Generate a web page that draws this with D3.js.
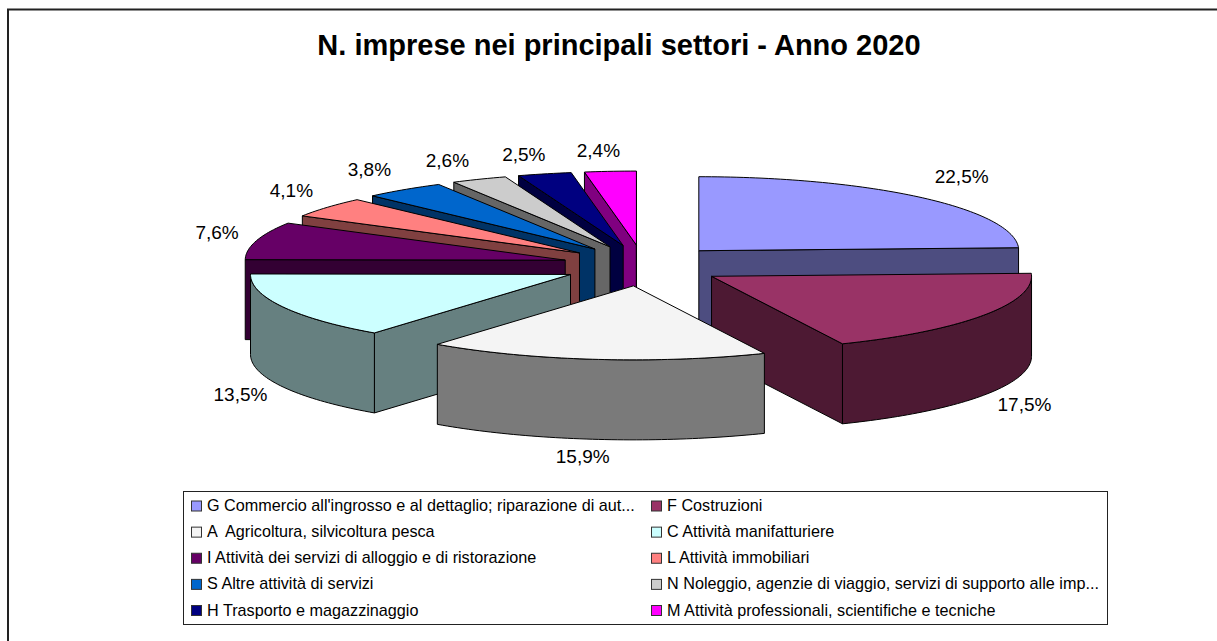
<!DOCTYPE html>
<html>
<head>
<meta charset="utf-8">
<script src="https://d3js.org/d3.v7.min.js"></script>
<style>
  html, body { margin: 0; padding: 0; background: #fff; }
  svg { display: block; }
  text { font-family: "Liberation Sans", Arial, sans-serif; fill: #000; white-space: pre; }
</style>
</head>
<body>
<div class="chart"></div>
<script>
var categories = [
  "G Commercio all'ingrosso e al dettaglio; riparazione di aut...",
  "F Costruzioni",
  "A  Agricoltura, silvicoltura pesca",
  "C Attività manifatturiere",
  "I Attività dei servizi di alloggio e di ristorazione",
  "L Attività immobiliari",
  "S Altre attività di servizi",
  "N Noleggio, agenzie di viaggio, servizi di supporto alle imp...",
  "H Trasporto e magazzinaggio",
  "M Attività professionali, scientifiche e tecniche"
];
var values = [22.5, 17.5, 15.9, 13.5, 7.6, 4.1, 3.8, 2.6, 2.5, 2.4];
var topColors = ["#9999ff", "#993366", "#f4f4f4", "#ccffff", "#660066", "#ff8080", "#0066cc", "#cccccc", "#000080", "#ff00ff"];
var wallColors = ["#4d4d80", "#4d1933", "#7a7a7a", "#668080", "#330033", "#804040", "#003366", "#666666", "#000040", "#800080"];
var title = "N. imprese nei principali settori - Anno 2020";

var width = 1217, height = 641;
var cx = 643, cy = 265.5;      // pie centre before exploding
var rx = 320, ry = 74;         // ellipse of the top face
var explodeX = 80.6, explodeY = 20.5;
var depth = 80;

var svg = d3.select(".chart").append("svg")
    .attr("width", width)
    .attr("height", height);

// frame, only top and left show in the picture
svg.append("path")
    .attr("d", "M8,641V9.5H1217")
    .attr("fill", "none")
    .attr("stroke", "#222")
    .attr("stroke-width", 2);

svg.append("text")
    .attr("x", 619)
    .attr("y", 55)
    .attr("text-anchor", "middle")
    .attr("font-size", 29)
    .attr("font-weight", "bold")
    .text(title);

var pie = d3.pie().sort(null).value(function(d) { return d; });
var slices = pie(values).map(function(d, i) {
  var mid = (d.startAngle + d.endAngle) / 2;
  return {
    i: i,
    start: d.startAngle,
    end: d.endAngle,
    mid: mid,
    ax: cx + explodeX * Math.sin(mid),
    ay: cy - explodeY * Math.cos(mid)
  };
});

function pt(s, a, dy) {
  return [s.ax + rx * Math.sin(a), s.ay - ry * Math.cos(a) + (dy || 0)];
}

function arcPoints(s, a0, a1, dy) {
  var n = Math.max(2, Math.ceil((a1 - a0) / 0.02));
  return d3.range(n + 1).map(function(k) { return pt(s, a0 + (a1 - a0) * k / n, dy); });
}

var line = d3.line();

// back slices first, so the nearer ones paint over them
var order = slices.slice().sort(function(a, b) { return Math.cos(b.mid) - Math.cos(a.mid); });

var g = svg.append("g")
    .attr("stroke", "#000")
    .attr("stroke-width", 1)
    .attr("stroke-linejoin", "round");

function sideWall(s, a) {
  g.append("path")
    .attr("d", line([[s.ax, s.ay], pt(s, a), pt(s, a, depth), [s.ax, s.ay + depth]]) + "Z")
    .attr("fill", wallColors[s.i]);
}

order.forEach(function(s) {
  // a cut face only shows when it turns towards the viewer
  if (Math.sin(s.start) < 0) sideWall(s, s.start);
  if (Math.sin(s.end) > 0) sideWall(s, s.end);

  // outer wall, only the part between 90 and 270 degrees faces us
  var a0 = Math.max(s.start, Math.PI / 2), a1 = Math.min(s.end, Math.PI * 1.5);
  if (a1 > a0) {
    g.append("path")
      .attr("d", line(arcPoints(s, a0, a1).concat(arcPoints(s, a0, a1, depth).reverse())) + "Z")
      .attr("fill", wallColors[s.i]);
  }

  g.append("path")
    .attr("d", line([[s.ax, s.ay]].concat(arcPoints(s, s.start, s.end))) + "Z")
    .attr("fill", topColors[s.i]);
});

// percent labels
var fmt = function(v) { return d3.format(".1f")(v).replace(".", ",") + "%"; };
var labelRx = 368, labelRy = 92;
var labelNudge = [[8, -7], [0, 0], [-7, 0], [1, 0], [7, -3], [2, -5], [-6, -5], [-12, -2], [-9, -1], [-8, -2]];

svg.append("g").selectAll("text")
    .data(slices)
    .enter().append("text")
    .attr("x", function(d) { return d.ax + labelRx * Math.sin(d.mid) + labelNudge[d.i][0]; })
    .attr("y", function(d) {
      var front = Math.cos(d.mid) < 0 ? depth : 0;
      return d.ay - labelRy * Math.cos(d.mid) + front + labelNudge[d.i][1] + 6;
    })
    .attr("text-anchor", "middle")
    .attr("font-size", 19)
    .text(function(d) { return fmt(values[d.i]); });

// legend
var legendX = 183.5, legendY = 491.5, legendW = 924, legendH = 133;
svg.append("rect")
    .attr("x", legendX).attr("y", legendY)
    .attr("width", legendW).attr("height", legendH)
    .attr("fill", "#fff")
    .attr("stroke", "#222");

var colX = d3.scaleBand().domain([0, 1]).range([190, 1110]);
var rowY = d3.scalePoint().domain([0, 1, 2, 3, 4]).range([505.5, 610]);

var items = svg.append("g").selectAll("g")
    .data(categories)
    .enter().append("g")
    .attr("transform", function(d, i) {
      return "translate(" + colX(i % 2) + "," + rowY(Math.floor(i / 2)) + ")";
    });

items.append("rect")
    .attr("x", 1.5).attr("y", -4.5)
    .attr("width", 10).attr("height", 10)
    .attr("fill", function(d, i) { return topColors[i]; })
    .attr("stroke", "#333");

items.append("text")
    .attr("x", 17)
    .attr("y", 5.5)
    .attr("font-size", 16.2)
    .text(function(d) { return d; });
</script>
</body>
</html>
